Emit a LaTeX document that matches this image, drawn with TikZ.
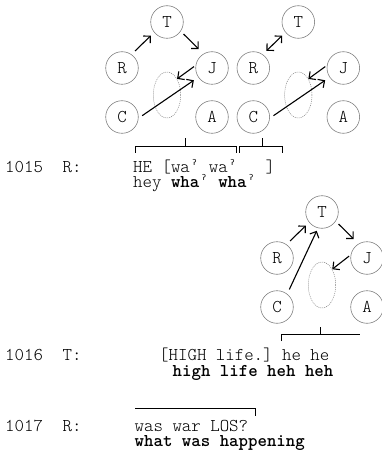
\documentclass[tikz,border=0pt]{standalone}
\usepackage{fontspec}
\setmonofont{Latin Modern Mono Light}
\newfontfamily\ipafont{DejaVu Sans Mono}
\usetikzlibrary{positioning,shapes.geometric,arrows.meta}

\newcommand{\glot}{\makebox[0.525em]{\raisebox{7.5pt}{\ipafont\fontsize{8}{8}\selectfont ʔ}}}

\begin{document}
\begin{tikzpicture}[%
    x=1pt, y=-1pt,
    >={Straight Barb[length=5pt,width=10pt]},
    node distance=46pt and 45pt, on grid,
    person/.style={circle, draw=gray, line width=0.6pt, minimum size=32.6pt,
      inner sep=0pt, font=\ttfamily\fontsize{18}{18}\selectfont},
    gap/.style={ellipse, draw=gray, line width=0.5pt, dash pattern=on 1pt off 1pt,
      minimum width=27.4pt, minimum height=46pt, inner sep=0pt},
    gaze/.style={->, line width=1.1pt},
    brack/.style={line width=0.7pt},
    turn/.style={anchor=base west, inner sep=0pt, font=\ttfamily\fontsize{18}{18}\selectfont}
  ]
    \useasboundingbox (0,0) rectangle (381,457);

    % first constellation
    \node[person] (t1) at (167,22) {T};
    \node[person] (r1) [below left=of t1] {R};
    \node[person] (j1) [below right=of t1] {J};
    \node[person] (c1) [below left=95pt and 45pt of t1] {C};
    \node[person] (a1) [below right=95pt and 45pt of t1] {A};
    \node[gap] (e1) [below=73pt of t1] {};

    \draw[gaze, shorten <=5pt, shorten >=4.5pt] (r1.55) -- (t1.219);
    \draw[gaze, shorten <=4pt, shorten >=6.7pt] (t1.-34) -- (j1.121);
    \draw[gaze, shorten <=2pt] (j1.171) -- (e1.58);
    \draw[gaze, shorten <=4.4pt, shorten >=5.3pt] (c1.-4) -- (j1.214);

    % second constellation
    \node[person] (t2) at (298.3,22) {T};
    \node[person] (r2) [below left=of t2] {R};
    \node[person] (j2) [below right=of t2] {J};
    \node[person] (c2) [below left=95pt and 45pt of t2] {C};
    \node[person] (a2) [below right=95pt and 45pt of t2] {A};
    \node[gap] (e2) [below=73pt of t2] {};

    \draw[gaze, <->, shorten <=5pt, shorten >=4.5pt] (r2.55) -- (t2.219);
    \draw[gaze, shorten <=2pt] (j2.171) -- (e2.58);
    \draw[gaze, shorten <=4.4pt, shorten >=5.3pt] (c2.-4) -- (j2.214);

    % third constellation
    \node[person] (t3) at (322,212) {T};
    \node[person] (r3) [below left=of t3] {R};
    \node[person] (j3) [below right=of t3] {J};
    \node[person] (c3) [below left=95pt and 45pt of t3] {C};
    \node[person] (a3) [below right=95pt and 45pt of t3] {A};
    \node[gap] (e3) [below=73pt of t3] {};

    \draw[gaze, shorten <=5pt, shorten >=4.5pt] (r3.55) -- (t3.219);
    \draw[gaze, shorten <=4pt, shorten >=6.7pt] (t3.-34) -- (j3.121);
    \draw[gaze, shorten <=2pt] (j3.169) -- (e3.57);
    \draw[gaze, shorten <=4.9pt, shorten >=3pt] (c3.52) -- (t3.256);

    % brackets
    \draw[brack] (135,153) -- (135,146) -- (236,146) -- (236,153) (185.5,146) -- (185.5,138);
    \draw[brack] (239.3,153) -- (239.3,146) -- (282.5,146) -- (282.5,153) (262,146) -- (262,138);
    \draw[brack] (281,341) -- (281,334) -- (359.5,334) (320.7,334) -- (320.7,326.5);
    \draw[brack] (135,408) -- (255.5,408) -- (255.5,415.5);

    % transcript
    \node[turn] (n1015) at (5,172.5) {1015};
    \node[turn] (s1015) at (62.5,172.5) {R:};
    \node[turn] (o1015) at (133,172.5) {HE [wa\glot{} wa\glot~~~]};
    \node[turn] (g1015) at (133,187.5) {hey \textbf{wha}\glot{} \textbf{wha}\glot};

    \node[turn] (n1016) at (5,360.5) {1016};
    \node[turn] (s1016) at (62.5,360.5) {T:};
    \node[turn] (o1016) at (159,360.5) {[HIGH life.] he he};
    \node[turn] (g1016) at (172.5,376) {\textbf{high life heh heh}};

    \node[turn] (n1017) at (5,431) {1017};
    \node[turn] (s1017) at (62.5,431) {R:};
    \node[turn] (o1017) at (134.5,431) {was war LOS?};
    \node[turn] (g1017) at (134.5,446.5) {\textbf{what was happening}};
\end{tikzpicture}
\end{document}
